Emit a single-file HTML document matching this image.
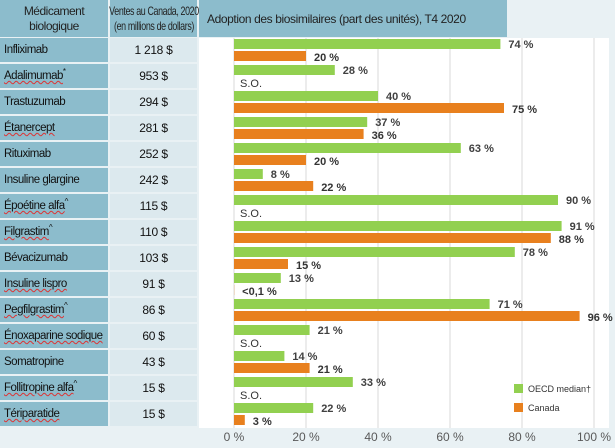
<!DOCTYPE html>
<html><head><meta charset="utf-8"><style>
body{margin:0;width:615px;height:448px;background:#e9f1f4;font-family:"Liberation Sans",sans-serif;overflow:hidden;position:relative}
.h{position:absolute;background:#8cbccc;color:#222;font-size:12px;text-align:center;line-height:15px;white-space:nowrap;letter-spacing:-0.5px}
.c1{position:absolute;left:0;width:108px;background:#8cbccc;font-size:11.5px;color:#111;padding-left:4px;box-sizing:border-box;line-height:24px;white-space:nowrap;letter-spacing:-0.5px}
.c2{position:absolute;left:110px;width:87px;background:#dce9ee;font-size:12px;color:#111;text-align:center;line-height:24px;letter-spacing:-0.3px}
.u{text-decoration:underline wavy #d33;text-decoration-thickness:1px}
sup{line-height:0;font-size:8px}
.sq{position:absolute;left:50%;top:4px;transform:translateX(-50%) scaleX(0.74);font-size:12px}
</style></head><body>
<div class="h" style="left:0;top:0;width:108px;height:37px;padding-top:4px;box-sizing:border-box">Médicament<br>biologique</div>
<div class="h" style="left:110px;top:0;width:87px;height:37px;box-sizing:border-box"><span class="sq">Ventes au Canada, 2020<br>(en millions de dollars)</span></div>
<div class="h" style="left:199px;top:0;width:308px;height:37px;text-align:left;padding:12px 0 0 8px;box-sizing:border-box;letter-spacing:-0.4px">Adoption des biosimilaires (part des unités), T4 2020</div>
<div id="rows"></div>
<svg id="chart" width="615" height="448" style="position:absolute;left:0;top:0"></svg>
<script>
const drugs=["Infliximab","Adalimumab*","Trastuzumab","Étanercept","Rituximab","Insuline glargine","Époétine alfa^","Filgrastim^","Bévacizumab","Insuline lispro","Pegfilgrastim^","Énoxaparine sodique","Somatropine","Follitropine alfa^","Tériparatide"];
const sales=["1 218 $","953 $","294 $","281 $","252 $","242 $","115 $","110 $","103 $","91 $","86 $","60 $","43 $","15 $","15 $"];
const oecd=[74,28,40,37,63,8,90,91,78,13,71,21,14,33,22];
const canada=[20,null,75,36,20,22,null,88,15,0.05,96,null,21,null,3];
const canadaLabels=["20 %","S.O.","75 %","36 %","20 %","22 %","S.O.","88 %","15 %","<0,1 %","96 %","S.O.","21 %","S.O.","3 %"];
const ticks=[0,20,40,60,80,100];
const NS="http://www.w3.org/2000/svg";
const x=v=>234+v*3.6, rowTop=i=>38+i*26;
const rows=document.getElementById('rows'), svg=document.getElementById('chart');
function el(t,a,p){const e=document.createElementNS(NS,t);for(const k in a)e.setAttribute(k,a[k]);(p||svg).appendChild(e);return e;}
el('rect',{x:199,y:38,width:410,height:390,fill:'#fff'});
ticks.forEach(t=>{
  const l=el('line',{x1:x(t),x2:x(t),y1:38,y2:428,stroke:'#d9d9d9','stroke-width':1});
  
  
  const tx=el('text',{x:x(t),y:441,'text-anchor':'middle','font-size':12,fill:'#595959'});
  tx.textContent=t+' %';
  
  
});
drugs.forEach((d,i)=>{
  const y=rowTop(i);
  const a=document.createElement('div');a.className='c1';a.style.top=y+'px';a.style.height='24px';
  const m=d.match(/^(.*?)([*^]?)$/);
  a.innerHTML='<span class="'+(i==0||i==2||i==4||i==5||i==8||i==12?'':'u')+'">'+m[1]+'</span><sup>'+m[2]+'</sup>';
  
  
  rows.appendChild(a);
  const b=document.createElement('div');b.className='c2';b.style.top=y+'px';b.style.height='24px';b.textContent=sales[i];
  
  
  rows.appendChild(b);
  const g=el('rect',{x:x(0),y:y+1,width:x(oecd[i])-x(0),height:10,fill:'#92d050'});
  
  
  const gt=el('text',{x:x(oecd[i])+8,y:y+10,'font-size':11,'font-weight':'bold',fill:'#404040'});gt.textContent=oecd[i]+' %';
  
  
  if(canada[i]!==null){
    const o=el('rect',{x:x(0),y:y+13,width:x(canada[i])-x(0),height:10,fill:'#e8801e'});
    
    
  }
  const ct=el('text',{x:canada[i]===null?x(0)+6:x(canada[i])+8,y:y+23,'font-size':11,'font-weight':canada[i]===null?'normal':'bold',fill:'#333'});ct.textContent=canadaLabels[i];
  
  
});
const l1=el('rect',{x:514,y:384,width:9,height:9,fill:'#92d050'});


const t1=el('text',{x:528,y:392,'font-size':9,fill:'#333'});t1.textContent='OECD median†';


const l2=el('rect',{x:514,y:403,width:9,height:9,fill:'#e8801e'});


const t2=el('text',{x:528,y:411,'font-size':9,fill:'#333'});t2.textContent='Canada';


</script>
</body></html>
